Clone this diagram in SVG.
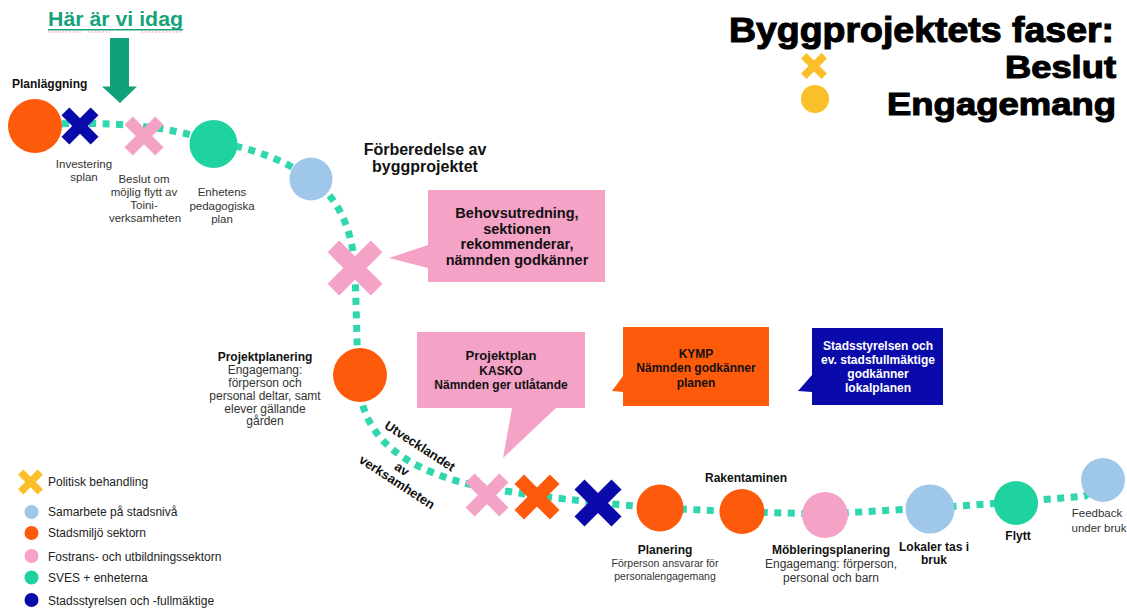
<svg xmlns="http://www.w3.org/2000/svg" xmlns:xlink="http://www.w3.org/1999/xlink" width="1127" height="608" viewBox="0 0 1127 608">
<style>
text{font-family:"Liberation Sans",Arial,sans-serif;}
.b{font-weight:bold;fill:#111;}
.r{fill:#333;}
.s11{font-size:11.5px;}
.s12{font-size:12px;}
.m{text-anchor:middle;}
.title{font-weight:bold;fill:#000;stroke:#000;stroke-width:1.1;text-anchor:end;}
.org{fill:#fe5a0c;}
.pnk{fill:#f4a2c6;}
.grn{fill:#1ed39f;}
.lbl{fill:#9fc7ea;}
.dbl{fill:#0a0aaa;}
.yel{fill:#fbbf2a;}
.dots{fill:none;stroke:#2fd6ae;stroke-width:7;stroke-dasharray:7 6.5;}
</style>
<defs>
<g id="xmark">
<rect x="-55.7" y="-15" width="111.4" height="30" transform="rotate(45)"/>
<rect x="-55.7" y="-15" width="111.4" height="30" transform="rotate(-45)"/>
</g>
</defs>
<rect width="1127" height="608" fill="#fff"/>

<!-- connectors -->
<g id="connectors">
<path class="dots" d="M 35 125 Q 150 118 213 142 Q 270 150 311 179 Q 350 205 355 268 L 358 375 C 360 425 385 460 460 482 Q 520 497 660 508 L 742 512 L 825 514 L 930 508 L 1016 502 L 1085 496 L 1103 480"/>
</g>

<!-- header -->
<g id="here">
<text x="48" y="26" font-size="20" font-weight="bold" fill="#16a37b" textLength="135" lengthAdjust="spacingAndGlyphs">Här är vi idag</text>
<rect x="48" y="29" width="135" height="1.5" fill="#16a37b"/>
<path d="M48 32 H81 M88 32 H110 M141 32 H183" stroke="#f3a0b8" stroke-width="1.2" stroke-dasharray="2 1.5" fill="none"/>
<polygon points="110,38 129,38 129,86.5 137,86.5 120,103 102,86.5 110,86.5" fill="#11a07a"/>
</g>

<g id="title">
<text class="title" font-size="35" x="1114" y="42" textLength="385" lengthAdjust="spacingAndGlyphs">Byggprojektets faser:</text>
<text class="title" font-size="31" x="1116" y="78" textLength="111" lengthAdjust="spacingAndGlyphs">Beslut</text>
<text class="title" font-size="32" x="1116" y="115" textLength="229" lengthAdjust="spacingAndGlyphs">Engagemang</text>
<use xlink:href="#xmark" transform="translate(814,66) scale(0.26)" class="yel"/>
<circle cx="815" cy="99" r="14" class="yel"/>
</g>

<!-- nodes -->
<g id="n-planlaggning">
<circle cx="35" cy="126" r="27" class="org"/>
<text class="b s12" x="12" y="88">Planläggning</text>
</g>
<g id="n-investering">
<use xlink:href="#xmark" transform="translate(80,126) scale(0.37)" class="dbl"/>
<text class="r s11 m" x="84" y="168">Investering</text>
<text class="r s11 m" x="84" y="181">splan</text>
</g>
<g id="n-beslut-flytt">
<use xlink:href="#xmark" transform="translate(144,136) scale(0.39)" class="pnk"/>
<text class="r s11 m" x="144" y="183">Beslut om</text>
<text class="r s11 m" x="144" y="196">möjlig flytt av</text>
<text class="r s11 m" x="144" y="209">Toini-</text>
<text class="r s11 m" x="145" y="222">verksamheten</text>
</g>
<g id="n-enhetens">
<circle cx="213.5" cy="144" r="24" class="grn"/>
<text class="r s11 m" x="222" y="196">Enhetens</text>
<text class="r s11 m" x="222" y="209.5">pedagogiska</text>
<text class="r s11 m" x="222" y="223">plan</text>
</g>
<g id="n-forberedelse">
<circle cx="311" cy="179" r="21.5" class="lbl"/>
<text class="b m" font-size="16" x="425" y="155">Förberedelse av</text>
<text class="b m" font-size="16" x="425" y="172">byggprojektet</text>
</g>
<g id="n-behovsutredning">
<use xlink:href="#xmark" transform="translate(355,268) scale(0.55)" class="pnk"/>
<polygon points="428,190 605,190 605,282 428,282 428,268 389,258 428,245" class="pnk"/>
<text class="b m" font-size="14.5" x="517" y="218">Behovsutredning,</text>
<text class="b m" font-size="14.5" x="517" y="233.5">sektionen</text>
<text class="b m" font-size="14.5" x="517" y="249">rekommenderar,</text>
<text class="b m" font-size="14.5" x="517" y="265">nämnden godkänner</text>
</g>
<g id="n-projektplanering">
<circle cx="360" cy="375" r="27" class="org"/>
<text class="b s12 m" x="265" y="361">Projektplanering</text>
<text class="r s12 m" x="265" y="374">Engagemang:</text>
<text class="r s12 m" x="265" y="387">förperson och</text>
<text class="r s12 m" x="265" y="400">personal deltar, samt</text>
<text class="r s12 m" x="265" y="413">elever gällande</text>
<text class="r s12 m" x="265" y="425">gården</text>
</g>
<g id="n-utvecklandet">
<text class="b m" font-size="13" transform="translate(420,446) rotate(33)" y="4.5">Utvecklandet</text>
<text class="b m" font-size="13" transform="translate(402,469) rotate(33)" y="4.5">av</text>
<text class="b m" font-size="13" transform="translate(397,482) rotate(33)" y="4.5">verksamheten</text>
</g>
<g id="n-projektplan">
<use xlink:href="#xmark" transform="translate(487,495) scale(0.43)" class="pnk"/>
<polygon points="417,332 585,332 585,408 556,408 503,458 512,408 417,408" class="pnk"/>
<text class="b m" font-size="13" x="501" y="360">Projektplan</text>
<text class="b m" font-size="12" x="501" y="375">KASKO</text>
<text class="b m" font-size="12" x="501" y="389">Nämnden ger utlåtande</text>
</g>
<g id="n-kymp">
<use xlink:href="#xmark" transform="translate(537,497) scale(0.45)" class="org"/>
<polygon points="623,327 769,327 769,406 623,406 623,392 612,391 623,376" class="org"/>
<text class="b m" font-size="12" x="696" y="358" fill="#1a1a1a">KYMP</text>
<text class="b m" font-size="12" x="696" y="372" fill="#1a1a1a">Nämnden godkänner</text>
<text class="b m" font-size="12" x="696" y="387" fill="#1a1a1a">planen</text>
</g>
<g id="n-stadsstyrelsen">
<use xlink:href="#xmark" transform="translate(598,503) scale(0.47)" class="dbl"/>
<polygon points="812,328 943,328 943,405 812,405 812,392 798,391 812,375" class="dbl"/>
<text class="m" font-weight="bold" font-size="12" fill="#fff" x="878" y="350">Stadsstyrelsen och</text>
<text class="m" font-weight="bold" font-size="12" fill="#fff" x="878" y="364">ev. stadsfullmäktige</text>
<text class="m" font-weight="bold" font-size="12" fill="#fff" x="878" y="378">godkänner</text>
<text class="m" font-weight="bold" font-size="12" fill="#fff" x="878" y="392">lokalplanen</text>
</g>
<g id="n-planering">
<circle cx="660" cy="508" r="23.5" class="org"/>
<text class="b s12 m" x="665" y="554">Planering</text>
<text class="r m" font-size="10.5" x="665" y="567">Förperson ansvarar för</text>
<text class="r m" font-size="10.5" x="665" y="580">personalengagemang</text>
</g>
<g id="n-rakentaminen">
<circle cx="742" cy="511.5" r="22.5" class="org"/>
<text class="b s12 m" x="746" y="482">Rakentaminen</text>
</g>
<g id="n-moblering">
<circle cx="825" cy="515" r="23" class="pnk"/>
<text class="b s12 m" x="831" y="554">Möbleringsplanering</text>
<text class="r s12 m" x="831" y="568">Engagemang: förperson,</text>
<text class="r s12 m" x="831" y="582">personal och barn</text>
</g>
<g id="n-lokaler">
<circle cx="930" cy="509" r="24.5" class="lbl"/>
<text class="b s12 m" x="934" y="551">Lokaler tas i</text>
<text class="b s12 m" x="934" y="564">bruk</text>
</g>
<g id="n-flytt">
<circle cx="1016" cy="503" r="22" class="grn"/>
<text class="b s12 m" x="1018" y="540">Flytt</text>
</g>
<g id="n-feedback">
<circle cx="1103" cy="480" r="22" class="lbl"/>
<text class="r s11 m" x="1097" y="517">Feedback</text>
<text class="r s11 m" x="1099" y="532">under bruk</text>
</g>

<!-- legend -->
<g id="legend">
<use xlink:href="#xmark" transform="translate(30.5,482) scale(0.25)" class="yel"/>
<text class="s12" fill="#222" x="48" y="486">Politisk behandling</text>
<circle cx="31.5" cy="512" r="7" class="lbl"/>
<text class="s12" fill="#222" x="48" y="516">Samarbete på stadsnivå</text>
<circle cx="31.5" cy="533" r="7" class="org"/>
<text class="s12" fill="#222" x="48" y="537">Stadsmiljö sektorn</text>
<circle cx="31.5" cy="556" r="7" class="pnk"/>
<text class="s12" fill="#222" x="48" y="560.5">Fostrans- och utbildningssektorn</text>
<circle cx="31.5" cy="577.5" r="7" class="grn"/>
<text class="s12" fill="#222" x="48" y="582">SVES + enheterna</text>
<circle cx="31.5" cy="600" r="7" class="dbl"/>
<text class="s12" fill="#222" x="48" y="604.5">Stadsstyrelsen och -fullmäktige</text>
</g>
</svg>
